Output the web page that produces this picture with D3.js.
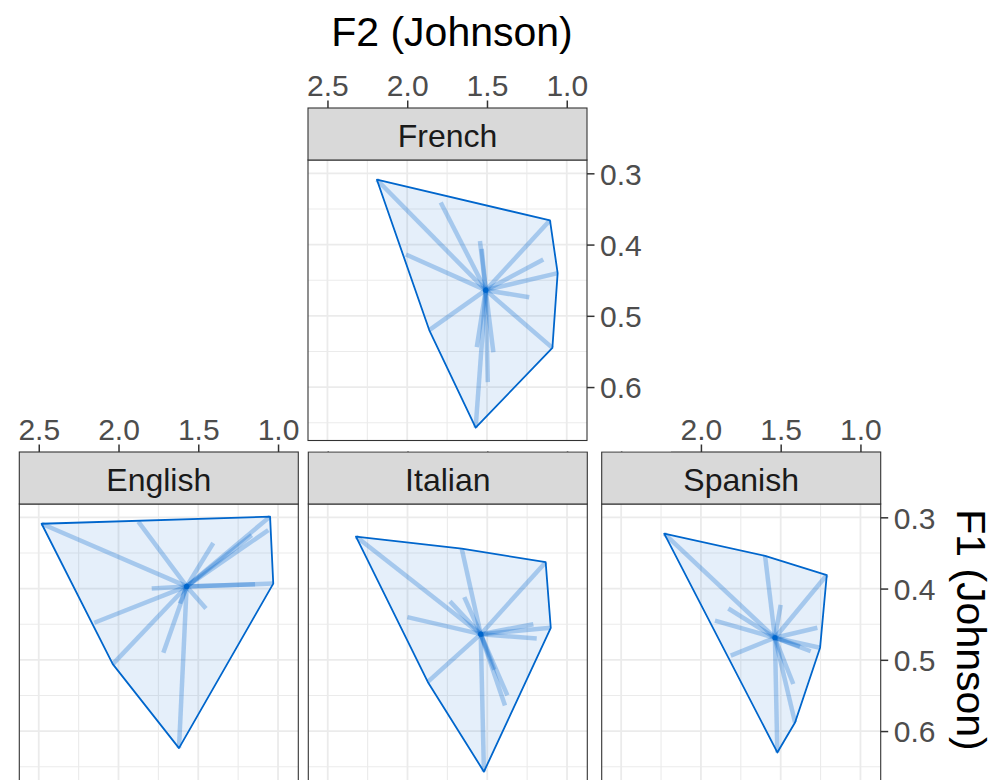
<!DOCTYPE html>
<html><head><meta charset="utf-8">
<script src="https://cdn.jsdelivr.net/npm/d3@7"></script>
<style>body{margin:0;background:#fff} svg{display:block}</style>
</head><body>
<svg id="chart" width="996" height="780"></svg>
<script>
// ---- data (F2 = x, F1 = y, Johnson-normalised) ----
const languages = ["French", "English", "Italian", "Spanish"];

const frenchF2  = [2.190, 1.105, 1.057, 1.090, 1.571, 1.862, 1.790, 1.544, 1.533, 2.008, 1.147, 1.235, 1.564, 1.460, 1.495];
const frenchF1  = [0.309, 0.366, 0.440, 0.545, 0.657, 0.520, 0.341, 0.395, 0.406, 0.414, 0.421, 0.474, 0.544, 0.551, 0.593];
const frenchCentre = [1.508, 0.464];

const englishF2 = [2.482, 1.050, 1.030, 1.621, 2.036, 1.876, 1.406, 1.165, 1.061, 1.792, 1.144, 1.452, 1.615, 2.152, 1.719];
const englishF1 = [0.309, 0.299, 0.393, 0.624, 0.506, 0.306, 0.336, 0.325, 0.318, 0.400, 0.394, 0.428, 0.421, 0.448, 0.490];
const englishCentre = [1.573, 0.397];

const italianF2 = [2.323, 1.660, 1.134, 1.102, 1.521, 1.873, 1.734, 1.644, 2.001, 1.211, 1.190, 1.456, 1.374, 1.389];
const italianF1 = [0.327, 0.344, 0.363, 0.455, 0.657, 0.531, 0.418, 0.412, 0.440, 0.450, 0.470, 0.514, 0.550, 0.564];
const italianCentre = [1.541, 0.464];

const spanishF2 = [2.230, 1.598, 1.211, 1.253, 1.410, 1.521, 1.828, 1.912, 1.813, 1.500, 1.270, 1.312, 1.421, 1.379];
const spanishF1 = [0.323, 0.354, 0.381, 0.483, 0.588, 0.630, 0.428, 0.445, 0.494, 0.423, 0.455, 0.488, 0.534, 0.481];
const spanishCentre = [1.536, 0.469];

const xTicks = [2.5, 2.0, 1.5, 1.0];
const xMinor = [2.25, 1.75, 1.25];
const yTicks = [0.3, 0.4, 0.5, 0.6];
const yMinor = [0.35, 0.45, 0.55, 0.65];
const xDomain = [2.622, 0.873];
const yDomain = [0.2813, 0.675];

const xTitle = "F2 (Johnson)";
const yTitle = "F1 (Johnson)";

// ---- layout ----
const W = 279, H = 280.5, STRIP = 52;
const layout = {
  English: {left: 19.3,  top: 504, right: false},
  Italian: {left: 308.3, top: 504, right: false},
  Spanish: {left: 601.7, top: 504, right: true},
  French:  {left: 308,   top: 160, right: true}
};
const series = {
  French:  {f2: frenchF2,  f1: frenchF1,  c: frenchCentre},
  English: {f2: englishF2, f1: englishF1, c: englishCentre},
  Italian: {f2: italianF2, f1: italianF1, c: italianCentre},
  Spanish: {f2: spanishF2, f1: spanishF1, c: spanishCentre}
};

const FONT = "'Liberation Sans', Arial, Helvetica, sans-serif";
const BLUE = "#0066CC";

const svg = d3.select("#chart");
svg.append("rect").attr("width", 996).attr("height", 780).attr("fill", "#fff");

const x = d3.scaleLinear().domain(xDomain).range([0, W]);
const y = d3.scaleLinear().domain(yDomain).range([0, H]);
const fmt = d3.format(".1f");

function drawPanel(lang, idx) {
  const L = layout[lang], S = series[lang];
  if (lang === "French") {
    // the French plot's own background overlaps the plots beneath it
    svg.append("rect").attr("x", 300).attr("y", 0).attr("width", 371).attr("height", 451.3).attr("fill", "#fff");
  }
  const g = svg.append("g").attr("transform", `translate(${L.left},${L.top})`);
  g.append("rect").attr("width", W).attr("height", H).attr("fill", "#fff");

  const clipId = "clip" + idx;
  g.append("clipPath").attr("id", clipId).append("rect").attr("width", W).attr("height", H);

  const grid = g.append("g").attr("clip-path", `url(#${clipId})`);
  grid.selectAll(".xm").data(xMinor).join("line")
    .attr("x1", d => x(d)).attr("x2", d => x(d)).attr("y1", 0).attr("y2", H)
    .attr("stroke", "#EBEBEB").attr("stroke-width", 1.1);
  grid.selectAll(".ym").data(yMinor).join("line")
    .attr("y1", d => y(d)).attr("y2", d => y(d)).attr("x1", 0).attr("x2", W)
    .attr("stroke", "#EBEBEB").attr("stroke-width", 1.1);
  grid.selectAll(".xM").data(xTicks).join("line")
    .attr("x1", d => x(d)).attr("x2", d => x(d)).attr("y1", 0).attr("y2", H)
    .attr("stroke", "#EBEBEB").attr("stroke-width", 1.8);
  grid.selectAll(".yM").data(yTicks).join("line")
    .attr("y1", d => y(d)).attr("y2", d => y(d)).attr("x1", 0).attr("x2", W)
    .attr("stroke", "#EBEBEB").attr("stroke-width", 1.8);

  const pts = S.f2.map((v, i) => [v, S.f1[i]]);
  const hull = d3.polygonHull(pts);
  const line = d3.line().x(d => x(d[0])).y(d => y(d[1])).curve(d3.curveLinearClosed);

  const marks = g.append("g").attr("clip-path", `url(#${clipId})`);
  marks.append("path").attr("d", line(hull))
    .attr("fill", BLUE).attr("fill-opacity", 0.1).attr("stroke", "none");
  marks.selectAll(".spoke").data(pts).join("line")
    .attr("x1", x(S.c[0])).attr("y1", y(S.c[1]))
    .attr("x2", d => x(d[0])).attr("y2", d => y(d[1]))
    .attr("stroke", BLUE).attr("stroke-opacity", 0.28).attr("stroke-width", 4.5);
  marks.append("path").attr("d", line(hull))
    .attr("fill", "none").attr("stroke", BLUE).attr("stroke-width", 1.8).attr("stroke-linejoin", "round");
  marks.append("circle").attr("cx", x(S.c[0])).attr("cy", y(S.c[1])).attr("r", 2.6).attr("fill", BLUE);

  g.append("rect").attr("width", W).attr("height", H)
    .attr("fill", "none").attr("stroke", "#333").attr("stroke-width", 1.1);

  // strip
  g.append("rect").attr("y", -STRIP).attr("width", W).attr("height", STRIP)
    .attr("fill", "#D9D9D9").attr("stroke", "#333").attr("stroke-width", 1.1);
  g.append("text").attr("x", W / 2).attr("y", -STRIP + 39.3)
    .attr("text-anchor", "middle").attr("font-family", FONT).attr("font-size", 32)
    .attr("fill", "#1A1A1A").text(lang);

  // top axis
  const ax = g.append("g").attr("transform", `translate(0,${-STRIP})`)
    .call(d3.axisTop(x).tickValues(xTicks).tickFormat(fmt).tickSize(7.5).tickPadding(5));
  ax.select(".domain").remove();
  ax.selectAll("line").attr("stroke", "#333").attr("stroke-width", 1.5);
  ax.selectAll("text").attr("font-family", FONT).attr("font-size", 30).attr("fill", "#4D4D4D");

  if (L.right) {
    const ay = g.append("g").attr("transform", `translate(${W},0)`)
      .call(d3.axisRight(y).tickValues(yTicks).tickFormat(fmt).tickSize(7.5).tickPadding(5.5));
    ay.select(".domain").remove();
    ay.selectAll("line").attr("stroke", "#333").attr("stroke-width", 1.5);
    ay.selectAll("text").attr("font-family", FONT).attr("font-size", 30).attr("fill", "#4D4D4D")
      .attr("dy", "0.36em");
  }
}

["English", "Italian", "Spanish", "French"].forEach((l, i) => drawPanel(l, i));

// axis titles
svg.append("text").attr("x", 452).attr("y", 46)
  .attr("text-anchor", "middle").attr("font-family", FONT).attr("font-size", 41)
  .attr("fill", "#000").text(xTitle);
svg.append("text").attr("transform", "translate(957,630) rotate(90)")
  .attr("text-anchor", "middle").attr("font-family", FONT).attr("font-size", 41)
  .attr("fill", "#000").text(yTitle);
</script>
</body></html>
